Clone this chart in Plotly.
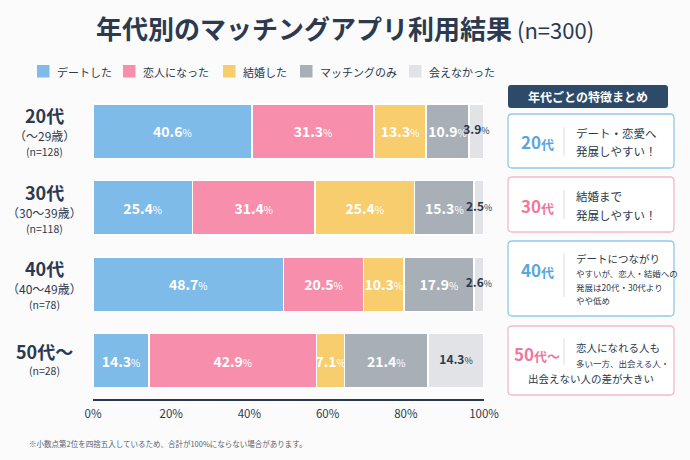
import plotly.graph_objects as go

# data (percent of each age group)
ages = ['20代', '30代', '40代', '50代～']
age_ranges = ['（～29歳）', '（30～39歳）', '（40～49歳）', '']
sample_n = ['(n=128)', '(n=118)', '(n=78)', '(n=28)']

series_names = ['デートした', '恋人になった', '結婚した', 'マッチングのみ', '会えなかった']
date_vals = [40.6, 25.4, 48.7, 14.3]
lover_vals = [31.3, 31.4, 20.5, 42.9]
married_vals = [13.3, 25.4, 10.3, 7.1]
match_only_vals = [10.9, 15.3, 17.9, 21.4]
not_met_vals = [3.9, 2.5, 2.6, 14.3]

tick_vals = [0, 20, 40, 60, 80, 100]
tick_text = ['0%', '20%', '40%', '60%', '80%', '100%']

colors = ['#7fbbe8', '#f78fac', '#f8cd6e', '#a9afb7', '#e1e3e7']
NAVY = '#2b3a4e'
W, H = 690, 460
FONT = 'Noto Sans CJK JP'


def px(x):
    return x / W


def py(y):
    return 1 - y / H


def rounded_rect(x0, y0, x1, y1, r=4):
    # path in paper coords, input in pixels
    pts = [
        f'M {px(x0 + r)} {py(y0)}',
        f'L {px(x1 - r)} {py(y0)}',
        f'Q {px(x1)} {py(y0)} {px(x1)} {py(y0 + r)}',
        f'L {px(x1)} {py(y1 - r)}',
        f'Q {px(x1)} {py(y1)} {px(x1 - r)} {py(y1)}',
        f'L {px(x0 + r)} {py(y1)}',
        f'Q {px(x0)} {py(y1)} {px(x0)} {py(y1 - r)}',
        f'L {px(x0)} {py(y0 + r)}',
        f'Q {px(x0)} {py(y0)} {px(x0 + r)} {py(y0)}',
        'Z',
    ]
    return ' '.join(pts)


def note(x, y, text, size, color=NAVY, xanchor='center'):
    return dict(x=px(x), y=py(y), xref='paper', yref='paper', showarrow=False,
                xanchor=xanchor, yanchor='middle', text=text,
                font=dict(size=size, color=color))


def pct_label(v, small=10):
    return f"<b>{v:.1f}</b><span style='font-size:{small}px'>%</span>"


fig = go.Figure()

all_vals = [date_vals, lover_vals, married_vals, match_only_vals, not_met_vals]
for k, (name, vals, col) in enumerate(zip(series_names, all_vals, colors)):
    last = k == len(all_vals) - 1
    fig.add_trace(go.Bar(
        y=ages, x=vals, name=name, orientation='h',
        marker=dict(color=col, line=dict(color='white', width=1.5)),
        text=None if last else [pct_label(v) for v in vals],
        textposition='inside', insidetextanchor='middle', textangle=0,
        constraintext='none', cliponaxis=False,
        textfont=dict(color='white', size=14, family=FONT),
        hoverinfo='skip', showlegend=False,
    ))

# labels of the thin last segment spill over the bar end, so put them on a text layer
totals = [sum(t) for t in zip(*all_vals)]
fig.add_trace(go.Scatter(
    y=ages, x=[t - v / 2 for t, v in zip(totals, not_met_vals)], mode='text',
    text=[pct_label(v, 9) for v in not_met_vals], textposition='middle center',
    textfont=dict(color=NAVY, size=12, family=FONT), cliponaxis=False,
    hoverinfo='skip', showlegend=False,
))

fig.update_layout(
    width=W, height=H,
    margin=dict(l=0, r=0, t=0, b=0, autoexpand=False),
    paper_bgcolor='#fbfbfc', plot_bgcolor='#fbfbfc',
    barmode='stack', bargap=0.29,
    font=dict(family=FONT, color=NAVY),
    xaxis=dict(domain=[px(93), px(484)], range=[0, 100], tickvals=tick_vals, ticktext=tick_text,
               showgrid=False, zeroline=False, showline=True, linecolor=NAVY, linewidth=1.5,
               tickfont=dict(size=11.5, color=NAVY), ticks='', ticklabelstandoff=3),
    yaxis=dict(domain=[py(399), py(93)], autorange='reversed', showticklabels=False,
               showgrid=False, zeroline=False, showline=False),
)

annotations = []
shapes = []
# title
annotations.append(note(345, 28,
                        "<b>年代別のマッチングアプリ利用結果</b><span style='font-size:22px'> (n=300)</span>", 26))

# legend drawn by hand: square + label
legend_x = [37, 123, 223, 300, 409]
for name, col, lx in zip(series_names, colors, legend_x):
    shapes.append(dict(type='rect', xref='paper', yref='paper', x0=px(lx), x1=px(lx + 12.5),
                       y0=py(77.5), y1=py(65), fillcolor=col, line=dict(width=0)))
    annotations.append(note(lx + 18, 71.5, name, 11, NAVY, 'left'))

# y category labels, tied to the category axis
for i, age in enumerate(ages):
    if age_ranges[i]:
        rows = [(age, 18, 16, True), (age_ranges[i], 12, -4.5, False), (sample_n[i], 10.5, -20.5, False)]
    else:
        rows = [(age, 18, 10, True), (sample_n[i], 10.5, -10, False)]
    for txt, size, shift, bold in rows:
        annotations.append(dict(
            x=px(44), y=age, xref='paper', yref='y', yshift=shift, showarrow=False,
            xanchor='center', yanchor='middle',
            text=f'<b>{txt}</b>' if bold else txt, font=dict(size=size, color=NAVY)))

# footnote
annotations.append(note(27, 443, '※小数点第2位を四捨五入しているため、合計が100%にならない場合があります。',
                        7.5, '#555e6b', 'left'))

# right summary panel
shapes.append(dict(type='path', path=rounded_rect(508, 85, 668, 108, 3), xref='paper', yref='paper',
                   fillcolor='#2d4a68', line=dict(width=0)))
annotations.append(note(588, 96.5, '<b>年代ごとの特徴まとめ</b>', 12, 'white'))

BLUE_B, PINK_B = '#93c8ef', '#f6b8ca'
BLUE_T, PINK_T = '#5aa7e0', '#f0789c'
cards = [
    (114, 168, BLUE_B, BLUE_T, '20代', 537, 141, (127, 156),
     [('デート・恋愛へ', 574, 133, 11.5, 'left'), ('発展しやすい！', 574, 151.5, 11.5, 'left')]),
    (177, 232, PINK_B, PINK_T, '30代', 537, 205, (190, 219),
     [('結婚まで', 574, 196, 11.5, 'left'), ('発展しやすい！', 574, 215, 11.5, 'left')]),
    (241, 316, BLUE_B, BLUE_T, '40代', 537, 269, (253, 297),
     [('デートにつながり', 574, 258, 10.5, 'left'), ('やすいが、恋人・結婚への', 574, 273, 8.5, 'left'),
      ('発展は20代・30代より', 574, 286.5, 8.5, 'left'), ('やや低め', 574, 300, 8.5, 'left')]),
    (326, 395, PINK_B, PINK_T, '50代～', 537, 353, (338, 365),
     [('恋人になれる人も', 574, 347, 10.5, 'left'), ('多い一方、出会える人・', 574, 363, 8.5, 'left'),
      ('出会えない人の差が大きい', 591, 378, 10.5, 'center')]),
]
for y0, y1, border, tcol, label, lx, ly, (d0, d1), lines in cards:
    shapes.append(dict(type='path', path=rounded_rect(508, y0, 674, y1, 4), xref='paper', yref='paper',
                       fillcolor='white', line=dict(color=border, width=1.3)))
    shapes.append(dict(type='line', x0=px(564), x1=px(564), y0=py(d0), y1=py(d1),
                       xref='paper', yref='paper', line=dict(color='#d9dde2', width=1)))
    num, rest = label.split('代', 1)
    big = f"{num}<span style='font-size:13px'>代{rest}</span>"
    annotations.append(note(lx, ly, f'<b>{big}</b>', 17, tcol))
    for txt, tx, ty, sz, anchor in lines:
        annotations.append(note(tx, ty, txt, sz, NAVY, anchor))

fig.update_layout(annotations=annotations, shapes=shapes)

fig.write_html('out.html', config={'displayModeBar': False},
               post_script="document.body.style.margin='0';document.body.style.overflow='hidden';")
